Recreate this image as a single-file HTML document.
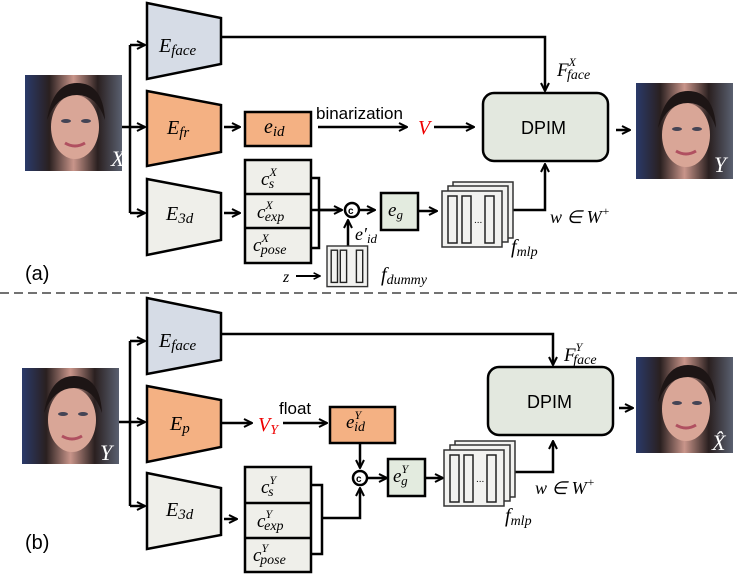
<!DOCTYPE html>
<html><head><meta charset="utf-8"><style>
body{margin:0;background:#fff}
svg{display:block}
.m{font-family:"Liberation Serif",serif;font-style:italic}
.s{font-family:"Liberation Sans",sans-serif}
</style></head><body>
<svg width="747" height="576" viewBox="0 0 747 576" xmlns="http://www.w3.org/2000/svg">
<defs>
<marker id="a" viewBox="0 0 10 10" refX="9" refY="5" markerWidth="4" markerHeight="4" orient="auto-start-reverse" markerUnits="strokeWidth">
<path d="M1,1 L9,5 L1,9" fill="none" stroke="#000" stroke-width="2"/></marker>
<linearGradient id="face" x1="0" y1="0" x2="1" y2="0">
<stop offset="0" stop-color="#2a3a6a"/><stop offset="0.25" stop-color="#2a2020"/><stop offset="0.5" stop-color="#c9958a"/><stop offset="0.75" stop-color="#2a2020"/><stop offset="1" stop-color="#5a6070"/></linearGradient>
<g id="mlp">
<rect x="11" y="0" width="60" height="56" fill="#f2f2f0" stroke="#333" stroke-width="1.5"/>
<rect x="6" y="4" width="60" height="56" fill="#f2f2f0" stroke="#333" stroke-width="1.5"/>
<rect x="0" y="9" width="60" height="56" fill="#f2f2f0" stroke="#333" stroke-width="1.5"/>
<rect x="6" y="14" width="9" height="47" fill="#f2f2f0" stroke="#222" stroke-width="1.5"/>
<rect x="20" y="14" width="9" height="47" fill="#f2f2f0" stroke="#222" stroke-width="1.5"/>
<rect x="43" y="14" width="9" height="47" fill="#f2f2f0" stroke="#222" stroke-width="1.5"/>
<text x="32" y="41" font-size="10" class="s">...</text>
</g>
<g id="ph">
<rect x="0" y="0" width="97" height="96" fill="url(#face)"/>
<ellipse cx="50" cy="52" rx="24" ry="32" fill="#d9a697"/>
<path d="M22,45 Q28,8 52,8 Q78,8 80,45 Q72,20 52,20 Q32,20 22,45Z" fill="#1d1515"/>
<ellipse cx="41" cy="46" rx="5" ry="2" fill="#445"/><ellipse cx="61" cy="46" rx="5" ry="2" fill="#445"/>
<path d="M40,68 Q50,74 60,68" stroke="#b05060" stroke-width="3" fill="none"/>
</g>
</defs>

<g stroke="#000" stroke-width="2.5" fill="none">
<path d="M121,127 H130 M130,45 V213"/>
<path d="M130,45 H145" marker-end="url(#a)"/>
<path d="M130,127 H145" marker-end="url(#a)"/>
<path d="M130,213 H145" marker-end="url(#a)"/>
<path d="M222,37 H545 V91" marker-end="url(#a)"/>
<path d="M224,127 H240" marker-end="url(#a)"/>
<path d="M318,127 H407" marker-end="url(#a)"/>
<path d="M434,127 H474" marker-end="url(#a)"/>
<path d="M616,130 H630" marker-end="url(#a)"/>
<path d="M224,213 H240" marker-end="url(#a)"/>
<path d="M311,178 H319 V248 H311 M311,210 H342" />
<path d="M319,210 H342" marker-end="url(#a)"/>
<path d="M360,210 H375" marker-end="url(#a)"/>
<path d="M419,211 H437" marker-end="url(#a)"/>
<path d="M512,210 H545 V164" marker-end="url(#a)"/>
<path d="M348,246 V220" marker-end="url(#a)"/>
<path d="M296,276 H320" stroke-width="2" marker-end="url(#a)"/>
<path d="M119,422 H130 M130,341 V506"/>
<path d="M130,341 H145" marker-end="url(#a)"/>
<path d="M130,422 H145" marker-end="url(#a)"/>
<path d="M130,506 H145" marker-end="url(#a)"/>
<path d="M222,334 H553 V365" marker-end="url(#a)"/>
<path d="M222,423 H252" marker-end="url(#a)"/>
<path d="M283,423 H327" marker-end="url(#a)"/>
<path d="M360,443 V468" marker-end="url(#a)"/>
<path d="M311,485 H322 V554 H311 M322,518 H360 V488" marker-end="url(#a)"/>
<path d="M368,478 H387" marker-end="url(#a)"/>
<path d="M426,478 H443" marker-end="url(#a)"/>
<path d="M515,472 H553 V441" marker-end="url(#a)"/>
<path d="M619,408 H633" marker-end="url(#a)"/>
<path d="M224,519 H237" marker-end="url(#a)"/>
</g>

<use href="#ph" x="25" y="75"/>
<use href="#ph" x="636" y="83"/>
<polygon points="147,3 221,18 221,64 147,79" fill="#d6dce6" stroke="#000" stroke-width="2.5"/>
<polygon points="147,91 221,105 221,152 147,166" fill="#f4b183" stroke="#000" stroke-width="2.5"/>
<polygon points="147,179 221,193 221,240 147,255" fill="#efefea" stroke="#000" stroke-width="2.5"/>
<rect x="245" y="112" width="66" height="34" fill="#f4b183" stroke="#000" stroke-width="2.5"/>
<rect x="245" y="160" width="66" height="103" fill="#efefea" stroke="#000" stroke-width="2.5"/>
<path d="M245,194 H311 M245,228 H311" stroke="#000" stroke-width="2.5"/>
<rect x="483" y="93" width="125" height="68" rx="11" fill="#e3e8df" stroke="#000" stroke-width="2.5"/>
<circle cx="352" cy="210" r="7" fill="#fff" stroke="#000" stroke-width="2.5"/>
<text x="348" y="214" font-size="10" class="s" font-weight="bold">c</text>
<rect x="381" y="193" width="37" height="37" fill="#e3ebdf" stroke="#000" stroke-width="2.5"/>
<use href="#mlp" x="442" y="182"/>
<g transform="translate(327,246) scale(0.7)"><rect x="0" y="0" width="58" height="58" fill="#f2f2f0" stroke="#333" stroke-width="2"/><rect x="6" y="6" width="9" height="46" fill="#f2f2f0" stroke="#222" stroke-width="2"/><rect x="19" y="6" width="9" height="46" fill="#f2f2f0" stroke="#222" stroke-width="2"/><rect x="42" y="6" width="9" height="46" fill="#f2f2f0" stroke="#222" stroke-width="2"/></g>

<text x="111" y="166" font-size="22" class="m" fill="#fff">X</text>
<text x="714" y="172" font-size="22" class="m" fill="#fff">Y</text>
<text x="159" y="52" font-size="20" class="m">E<tspan font-size="15" dy="3">face</tspan></text>
<text x="167" y="134" font-size="20" class="m">E<tspan font-size="15" dy="3">fr</tspan></text>
<text x="166" y="220" font-size="20" class="m">E<tspan font-size="15" dy="3">3d</tspan></text>
<text x="264" y="133" font-size="20" class="m">e<tspan font-size="15" dy="3">id</tspan></text>
<text x="316" y="119" font-size="17" class="s">binarization</text>
<text x="418" y="134" font-size="20" class="m" fill="#e00">V</text>
<text x="521" y="134" font-size="18" class="s">DPIM</text>
<text x="557" y="76" font-size="19" class="m">F<tspan font-size="12" dy="-10" dx="0">X</tspan><tspan font-size="14" dy="13" dx="-9">face</tspan></text>
<text x="261" y="185" font-size="19" class="m">c<tspan font-size="12" dy="-9">X</tspan><tspan font-size="14" dy="12" dx="-8">s</tspan></text>
<text x="257" y="218" font-size="19" class="m">c<tspan font-size="12" dy="-9">X</tspan><tspan font-size="14" dy="12" dx="-8">exp</tspan></text>
<text x="253" y="251" font-size="19" class="m">c<tspan font-size="12" dy="-9">X</tspan><tspan font-size="14" dy="12" dx="-8">pose</tspan></text>
<text x="388" y="216" font-size="19" class="m">e<tspan font-size="13" dy="3">g</tspan></text>
<text x="355" y="240" font-size="18" class="m">e′<tspan font-size="13" dy="3">id</tspan></text>
<text x="283" y="282" font-size="16" class="m">z</text>
<text x="381" y="281" font-size="20" class="m">f<tspan font-size="14" dy="3">dummy</tspan></text>
<text x="511" y="253" font-size="20" class="m">f<tspan font-size="14" dy="3">mlp</tspan></text>
<text x="550" y="223" font-size="18" class="m">w ∈ W<tspan font-size="12" dy="-8">+</tspan></text>
<text x="25" y="280" font-size="20" class="s">(a)</text>

<line x1="0" y1="293" x2="738" y2="293" stroke="#444" stroke-width="1.5" stroke-dasharray="9,5"/>

<use href="#ph" x="22" y="368"/>
<use href="#ph" x="636" y="357"/>
<polygon points="147,298 221,313 221,360 147,374" fill="#d6dce6" stroke="#000" stroke-width="2.5"/>
<polygon points="147,386 221,400 221,447 147,462" fill="#f4b183" stroke="#000" stroke-width="2.5"/>
<polygon points="147,473 221,488 221,535 147,549" fill="#efefea" stroke="#000" stroke-width="2.5"/>
<rect x="330" y="407" width="65" height="36" fill="#f4b183" stroke="#000" stroke-width="2.5"/>
<rect x="245" y="467" width="66" height="105" fill="#efefea" stroke="#000" stroke-width="2.5"/>
<path d="M245,503 H311 M245,538 H311" stroke="#000" stroke-width="2.5"/>
<rect x="488" y="367" width="125" height="68" rx="11" fill="#e3e8df" stroke="#000" stroke-width="2.5"/>
<circle cx="360" cy="478" r="7" fill="#fff" stroke="#000" stroke-width="2.5"/>
<text x="356" y="482" font-size="10" class="s" font-weight="bold">c</text>
<rect x="388" y="459" width="37" height="37" fill="#e3ebdf" stroke="#000" stroke-width="2.5"/>
<use href="#mlp" x="444" y="441"/>

<text x="100" y="460" font-size="22" class="m" fill="#fff">Y</text>
<text x="712" y="450" font-size="22" class="m" fill="#fff">X̂</text>
<text x="159" y="347" font-size="20" class="m">E<tspan font-size="15" dy="3">face</tspan></text>
<text x="170" y="430" font-size="20" class="m">E<tspan font-size="15" dy="3">p</tspan></text>
<text x="166" y="516" font-size="20" class="m">E<tspan font-size="15" dy="3">3d</tspan></text>
<text x="258" y="431" font-size="20" class="m" fill="#e00">V<tspan font-size="14" dy="3">Y</tspan></text>
<text x="279" y="414" font-size="17" class="s">float</text>
<text x="346" y="428" font-size="19" class="m">e<tspan font-size="12" dy="-9">Y</tspan><tspan font-size="14" dy="12" dx="-7">id</tspan></text>
<text x="527" y="408" font-size="18" class="s">DPIM</text>
<text x="564" y="361" font-size="19" class="m">F<tspan font-size="12" dy="-10" dx="0">Y</tspan><tspan font-size="14" dy="13" dx="-9">face</tspan></text>
<text x="261" y="493" font-size="19" class="m">c<tspan font-size="12" dy="-9">Y</tspan><tspan font-size="14" dy="12" dx="-8">s</tspan></text>
<text x="257" y="527" font-size="19" class="m">c<tspan font-size="12" dy="-9">Y</tspan><tspan font-size="14" dy="12" dx="-8">exp</tspan></text>
<text x="253" y="561" font-size="19" class="m">c<tspan font-size="12" dy="-9">Y</tspan><tspan font-size="14" dy="12" dx="-8">pose</tspan></text>
<text x="393" y="482" font-size="19" class="m">e<tspan font-size="12" dy="-9">Y</tspan><tspan font-size="13" dy="12" dx="-7">g</tspan></text>
<text x="505" y="522" font-size="20" class="m">f<tspan font-size="14" dy="3">mlp</tspan></text>
<text x="535" y="494" font-size="18" class="m">w ∈ W<tspan font-size="12" dy="-8">+</tspan></text>
<text x="25" y="549" font-size="20" class="s">(b)</text>
</svg>
</body></html>
